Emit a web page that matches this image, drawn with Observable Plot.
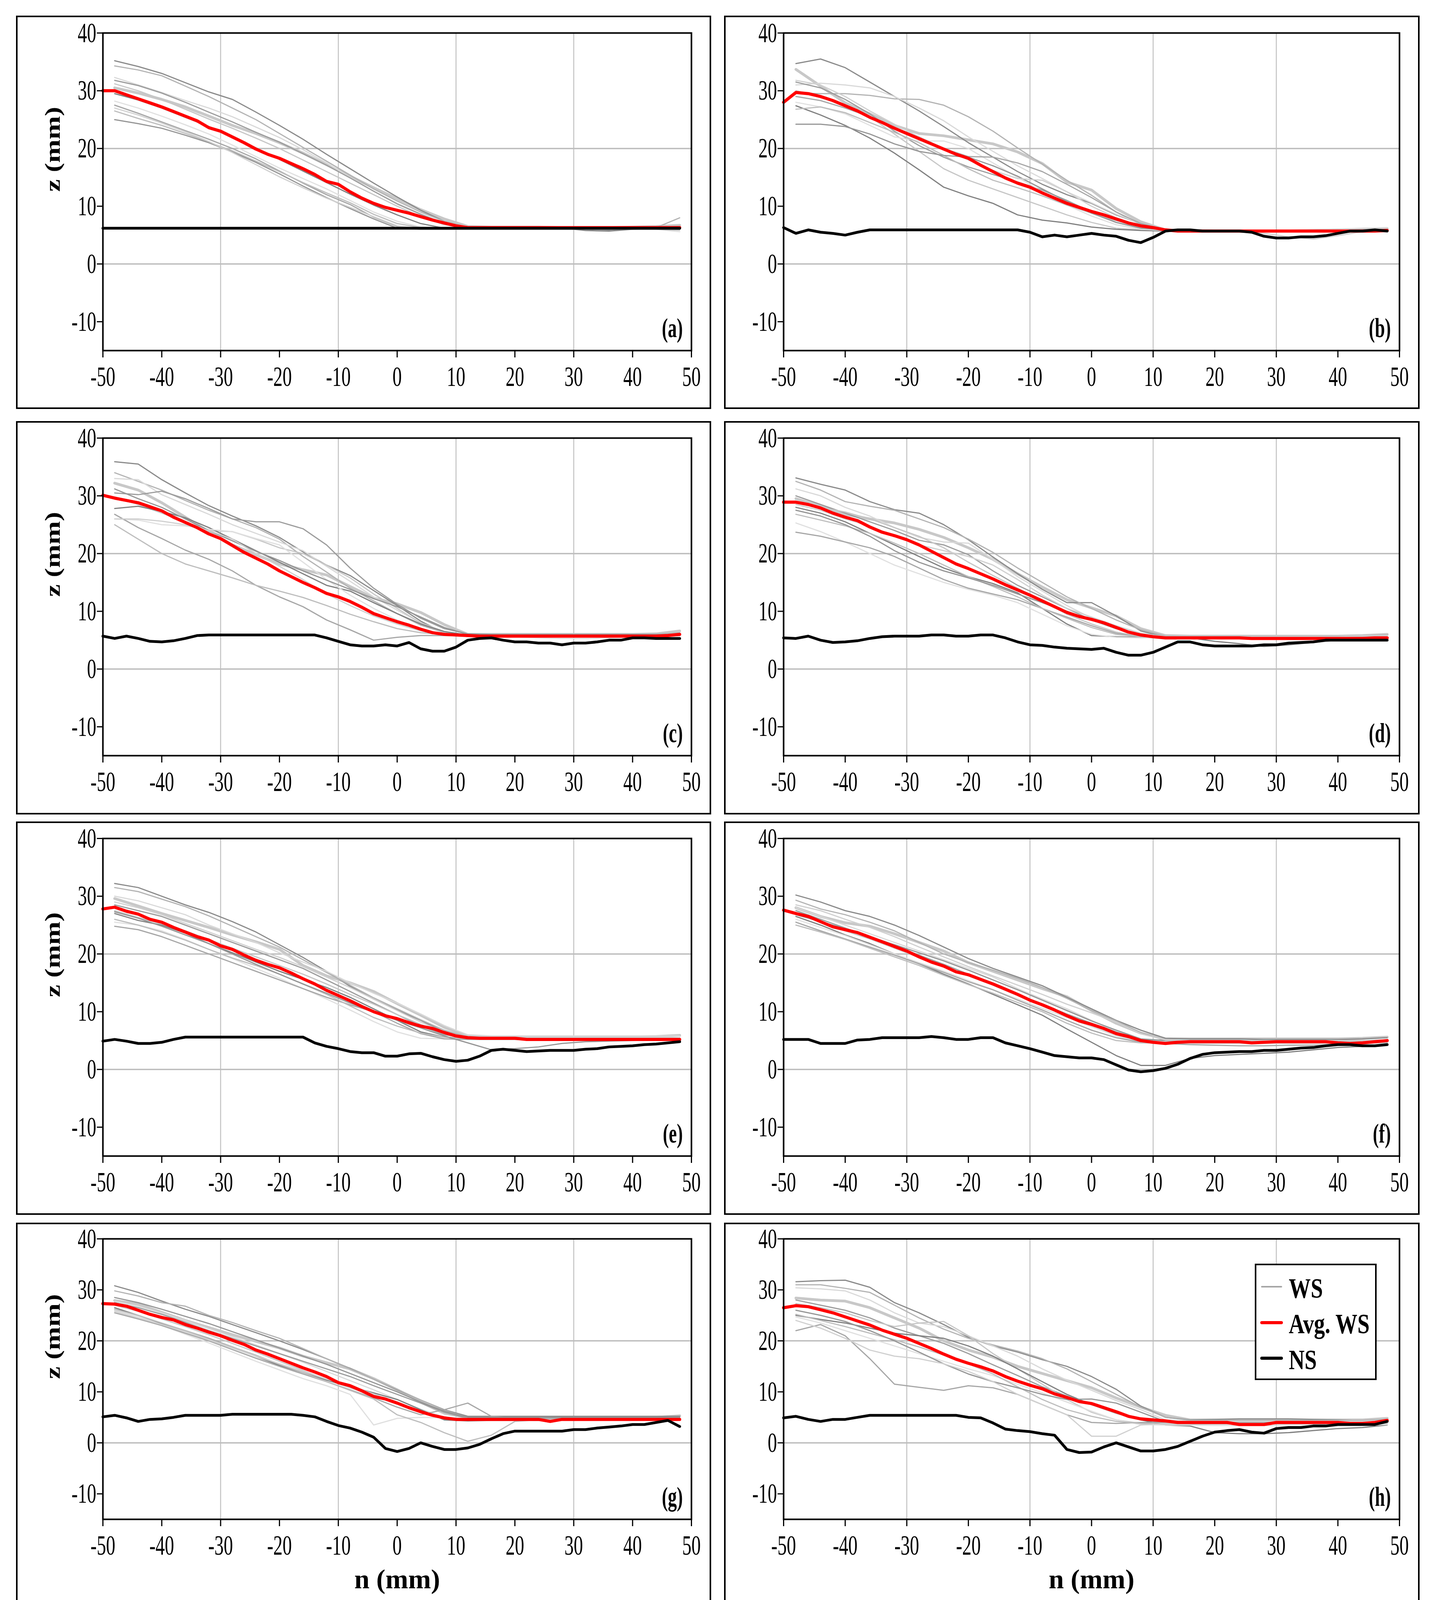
<!DOCTYPE html>
<html>
<head>
<meta charset="utf-8">
<script src="https://cdn.jsdelivr.net/npm/d3@7"></script>
<script src="https://cdn.jsdelivr.net/npm/@observablehq/plot@0.6"></script>
<style>
html, body { margin: 0; padding: 0; background: #fff; }
#page { position: relative; width: 3677px; height: 4184px; background: #fff; overflow: hidden; }
#page svg.plotsvg { position: absolute; }
.box { position: absolute; box-sizing: border-box; border: 4px solid #000; pointer-events: none; }
</style>
</head>
<body>
<div id="page"></div>
<script>
// ---------------- data ----------------
const XN = [-50,-48,-46,-44,-42,-40,-38,-36,-34,-32,-30,-28,-26,-24,-22,-20,-18,-16,-14,-12,
            -10,-8,-6,-4,-2,0,2,4,6,8,10,12,14,16,18,20,22,24,26,28,30,32,34,36,38,40,42,44,46,48];
const XG = [-48,-44,-40,-36,-32,-28,-24,-20,-16,-12,-8,-4,0,4,8,12,16,20,24,28,32,36,40,44,48];
const X_TICKS = [-50,-40,-30,-20,-10,0,10,20,30,40,50];
const Y_TICKS = [-10,0,10,20,30,40];
const GRID_X = [-50,-30,-10,10,30,50];
const GRID_Y = [0,20];
const LETTERS = ["(a)","(b)","(c)","(d)","(e)","(f)","(g)","(h)"];
const LEGEND_LABELS = ["WS","Avg. WS","NS"];
const X_TITLE = "n (mm)";
const Y_TITLE = "z (mm)";

// Avg. WS (red) and NS (black) at XN
const RED_A = [30.0,30.0,29.3,28.6,27.9,27.2,26.4,25.6,24.8,23.6,
               23.0,22.0,21.0,19.9,19.0,18.3,17.4,16.5,15.5,14.3,
               13.8,12.5,11.4,10.5,9.8,9.3,8.8,8.2,7.6,7.1,
               6.6,6.3,6.3,6.3,6.3,6.3,6.3,6.3,6.3,6.3,
               6.3,6.3,6.3,6.3,6.3,6.3,6.3,6.3,6.3,6.3];
const NS_A  = [6.2,6.2,6.2,6.2,6.2,6.2,6.2,6.2,6.2,6.2,
               6.2,6.2,6.2,6.2,6.2,6.2,6.2,6.2,6.2,6.2,
               6.2,6.2,6.2,6.2,6.2,6.2,6.2,6.2,6.2,6.2,
               6.2,6.2,6.2,6.2,6.2,6.2,6.2,6.2,6.2,6.2,
               6.2,6.2,6.2,6.2,6.2,6.2,6.2,6.2,6.2,6.2];
const RED_B = [28.0,29.7,29.5,29.0,28.3,27.4,26.5,25.4,24.5,23.5,
               22.6,21.7,20.8,19.9,19.0,18.3,17.1,16.0,14.9,14.0,
               13.3,12.3,11.4,10.5,9.8,9.1,8.5,7.8,7.1,6.6,
               6.3,5.9,5.7,5.7,5.7,5.7,5.7,5.7,5.7,5.7,
               5.7,5.7,5.7,5.7,5.7,5.7,5.7,5.7,5.7,5.8];
const NS_B  = [6.3,5.3,5.9,5.5,5.3,5.0,5.5,5.9,5.9,5.9,
               5.9,5.9,5.9,5.9,5.9,5.9,5.9,5.9,5.9,5.9,
               5.5,4.7,5.0,4.7,5.0,5.3,5.0,4.8,4.1,3.7,
               4.6,5.7,5.9,5.9,5.7,5.7,5.7,5.7,5.5,4.8,
               4.5,4.5,4.7,4.7,4.9,5.3,5.7,5.7,5.9,5.7];
const RED_C = [30.1,29.6,29.2,28.8,28.1,27.4,26.3,25.4,24.5,23.4,
               22.6,21.4,20.2,19.2,18.2,17.0,16.0,15.0,14.1,13.1,
               12.5,11.7,10.7,9.6,8.9,8.2,7.6,6.9,6.3,6.0,
               5.9,5.8,5.7,5.7,5.7,5.7,5.7,5.7,5.7,5.7,
               5.7,5.7,5.7,5.7,5.7,5.7,5.7,5.7,5.8,6.0];
const NS_C  = [5.7,5.3,5.7,5.3,4.8,4.7,4.9,5.3,5.8,5.9,
               5.9,5.9,5.9,5.9,5.9,5.9,5.9,5.9,5.9,5.4,
               4.8,4.2,4.0,4.0,4.2,4.0,4.6,3.5,3.1,3.1,
               3.8,5.0,5.3,5.4,5.0,4.7,4.7,4.5,4.5,4.2,
               4.5,4.5,4.7,5.0,5.0,5.4,5.4,5.3,5.3,5.3];
const RED_D = [28.9,28.9,28.5,27.9,27.0,26.3,25.7,24.6,23.7,23.1,
               22.4,21.5,20.4,19.3,18.2,17.4,16.5,15.6,14.6,13.7,
               12.8,11.8,10.8,9.8,9.1,8.6,8.0,7.2,6.4,5.9,
               5.6,5.4,5.4,5.4,5.4,5.4,5.4,5.4,5.3,5.3,
               5.3,5.3,5.3,5.3,5.3,5.3,5.3,5.3,5.4,5.4];
const NS_D  = [5.4,5.3,5.7,5.0,4.6,4.7,4.9,5.3,5.6,5.7,
               5.7,5.7,5.9,5.9,5.7,5.7,5.9,5.9,5.4,4.7,
               4.2,4.1,3.8,3.6,3.5,3.4,3.6,2.9,2.4,2.4,
               2.9,3.8,4.7,4.7,4.2,4.0,4.0,4.0,4.0,4.2,
               4.2,4.5,4.6,4.7,5.0,5.0,5.0,5.0,5.0,5.0];
const RED_E = [27.8,28.1,27.4,26.9,26.0,25.5,24.6,23.8,23.0,22.4,
               21.4,20.8,19.8,18.9,18.2,17.6,16.7,15.7,14.8,13.7,
               12.8,11.9,10.9,10.0,9.3,8.8,8.1,7.5,7.1,6.4,
               5.8,5.5,5.4,5.4,5.4,5.4,5.2,5.2,5.2,5.2,
               5.2,5.2,5.2,5.2,5.2,5.2,5.2,5.2,5.2,5.2];
const NS_E  = [4.9,5.2,4.9,4.5,4.5,4.7,5.2,5.6,5.6,5.6,
               5.6,5.6,5.6,5.6,5.6,5.6,5.6,5.6,4.6,4.0,
               3.6,3.1,2.9,2.9,2.3,2.3,2.7,2.8,2.2,1.7,
               1.4,1.6,2.3,3.3,3.5,3.3,3.1,3.2,3.3,3.3,
               3.3,3.5,3.6,3.9,4.0,4.1,4.3,4.4,4.6,4.8];
const RED_F = [27.6,27.0,26.5,25.6,24.7,24.2,23.7,22.9,22.1,21.3,
               20.5,19.5,18.6,17.9,16.9,16.4,15.6,14.8,13.9,13.0,
               12.0,11.2,10.3,9.3,8.4,7.8,7.1,6.2,5.7,5.0,
               4.7,4.5,4.7,4.8,4.8,4.8,4.8,4.8,4.6,4.7,
               4.8,4.8,4.8,4.8,4.8,4.6,4.5,4.6,4.8,5.0];
const NS_F  = [5.2,5.2,5.2,4.5,4.5,4.5,5.1,5.2,5.5,5.5,
               5.5,5.5,5.7,5.5,5.2,5.2,5.5,5.5,4.6,4.1,
               3.6,3.0,2.4,2.2,2.0,2.0,1.7,0.8,-0.1,-0.4,
               -0.2,0.2,0.9,1.9,2.6,2.9,3.0,3.1,3.1,3.3,
               3.3,3.5,3.7,3.8,4.1,4.3,4.3,4.1,4.1,4.3];
const RED_G = [27.3,27.2,26.8,26.0,25.2,24.6,24.1,23.2,22.5,21.7,
               21.0,20.1,19.3,18.2,17.4,16.5,15.6,14.7,13.9,13.0,
               11.8,11.2,10.2,9.1,8.6,7.8,6.9,6.1,5.4,4.9,
               4.6,4.6,4.6,4.6,4.6,4.6,4.6,4.6,4.2,4.6,
               4.6,4.6,4.6,4.6,4.6,4.6,4.6,4.6,4.6,4.6];
const NS_G  = [5.1,5.4,4.9,4.2,4.6,4.7,5.0,5.4,5.4,5.4,
               5.4,5.6,5.6,5.6,5.6,5.6,5.6,5.4,5.1,4.2,
               3.4,2.9,2.1,1.1,-1.1,-1.7,-1.1,0.0,-0.7,-1.3,
               -1.3,-1.0,-0.3,0.8,1.8,2.3,2.3,2.3,2.3,2.3,
               2.6,2.6,2.9,3.1,3.3,3.6,3.6,4.0,4.4,3.2];
const RED_H = [26.5,26.9,26.7,26.1,25.5,24.7,23.9,23.1,22.1,21.3,
               20.5,19.5,18.5,17.4,16.4,15.6,14.9,14.1,13.0,12.1,
               11.3,10.6,9.6,8.9,8.1,7.7,6.9,6.1,5.2,4.7,
               4.5,4.3,4.0,4.0,4.0,4.0,4.0,3.6,3.6,3.6,
               4.0,4.0,4.0,4.0,4.0,4.0,3.8,3.8,4.0,4.4];
const NS_H  = [4.9,5.2,4.6,4.2,4.6,4.6,5.0,5.4,5.4,5.4,
               5.4,5.4,5.4,5.4,5.4,5.0,4.9,3.9,2.7,2.4,
               2.2,1.8,1.5,-1.3,-1.9,-1.8,-0.8,0.0,-0.8,-1.6,
               -1.6,-1.3,-0.7,0.3,1.3,2.1,2.4,2.6,2.1,1.9,
               2.8,3.0,3.0,3.3,3.3,3.6,3.6,3.6,3.6,4.2];

// individual WS profiles at XG (first of each panel is the heavy light-grey one)
const GRAY_A = [
 [30.5,29.6,28.5,27.2,25.6,24.0,22.6,21.0,19.2,17.2,15.2,13.2,11.3,9.4,7.8,6.5,6.4,6.4,6.4,6.3,6.3,6.3,6.4,6.5,6.7],
 [35.2,34.2,33.0,31.4,29.8,28.5,26.3,24.0,21.6,19.0,16.5,14.0,11.6,9.3,7.4,6.3,6.2,6.2,6.2,6.2,6.0,5.9,6.1,6.2,6.3],
 [34.3,33.6,32.6,30.8,29.0,27.0,25.0,22.6,20.2,17.8,15.4,13.0,10.9,9.0,7.4,6.4,6.3,6.2,6.3,6.2,6.1,6.2,6.2,6.3,8.0],
 [32.3,31.0,29.7,28.3,27.0,25.5,23.7,21.9,19.8,17.5,15.0,12.6,10.5,8.7,7.1,6.3,6.3,6.3,6.3,6.3,6.3,6.3,6.3,6.3,6.3],
 [31.8,30.9,29.6,28.0,26.3,24.6,22.8,21.1,19.1,17.1,14.9,12.6,10.4,8.6,7.0,6.4,6.4,6.4,6.4,6.4,6.4,6.4,6.4,6.4,6.5],
 [31.2,30.0,28.5,26.8,25.1,23.5,21.8,20.0,18.0,16.0,14.0,12.0,10.0,8.2,6.8,6.3,6.3,6.2,6.2,6.2,6.2,6.2,6.2,6.2,6.2],
 [29.5,28.4,27.0,25.4,23.8,22.0,20.1,18.1,16.1,14.1,12.1,10.2,8.5,7.0,6.2,6.2,6.2,6.2,6.2,6.2,5.8,5.7,6.0,6.1,6.1],
 [28.2,27.0,25.6,24.1,22.5,20.6,18.6,16.6,14.8,13.0,11.0,9.0,7.4,6.4,6.2,6.2,6.2,6.2,6.2,6.2,6.2,6.2,6.2,6.0,5.6],
 [27.5,26.1,24.6,23.1,21.6,20.0,18.2,16.1,14.0,12.0,10.3,8.1,6.5,6.1,6.1,6.1,6.1,6.1,6.1,6.1,6.1,6.1,6.1,6.1,6.0],
 [26.5,25.2,24.0,22.6,21.1,19.6,17.8,16.0,14.1,12.3,10.6,8.6,7.0,6.3,6.2,6.2,6.2,6.2,6.2,6.2,6.2,6.2,6.2,6.2,6.2],
 [25.0,24.3,23.5,22.3,21.0,19.4,17.6,15.6,13.5,11.5,9.6,7.8,6.2,6.0,6.0,6.0,6.0,6.0,6.0,6.0,6.0,6.0,6.0,6.0,5.9],
 [27.0,25.8,24.4,22.9,21.2,19.3,17.2,15.1,13.2,11.4,9.8,8.2,6.6,6.1,6.1,6.1,6.1,6.1,6.1,6.1,6.1,6.1,6.1,6.1,6.1]
];
const GRAY_B = [
 [33.7,30.8,27.9,26.0,24.0,22.6,22.2,21.5,20.8,19.4,17.4,14.2,12.8,9.6,7.3,5.9,5.8,5.7,5.7,5.7,5.7,5.8,5.9,6.0,6.1],
 [34.7,35.5,34.0,31.5,29.0,26.5,23.8,21.0,18.5,16.0,13.8,12.0,10.5,8.5,7.0,6.0,5.8,5.7,5.7,5.7,5.6,5.6,5.7,5.8,5.9],
 [29.6,29.5,29.5,29.2,28.6,28.5,27.5,25.5,23.0,20.1,17.3,14.5,11.9,9.0,6.8,5.9,5.8,5.7,5.7,5.7,5.7,5.7,5.7,5.7,5.7],
 [31.0,31.3,31.0,30.5,29.0,27.0,24.8,22.0,19.5,17.0,14.8,12.5,10.6,8.6,7.0,6.1,5.8,5.8,5.8,5.8,5.8,5.9,6.0,6.2,6.3],
 [31.5,30.5,28.5,26.0,23.0,20.5,18.5,16.8,15.5,14.2,12.8,11.0,9.0,7.2,6.2,5.8,5.7,5.7,5.7,5.7,5.7,5.7,5.7,5.7,5.7],
 [30.0,29.0,27.5,25.5,22.5,19.5,16.5,14.5,13.0,11.5,10.0,8.5,7.2,6.2,5.9,5.8,5.7,5.7,5.6,5.6,5.6,5.6,5.6,5.7,5.8],
 [27.4,25.8,24.0,21.8,19.2,16.3,13.3,11.8,10.5,8.5,7.6,7.1,6.4,6.0,5.8,5.7,5.7,5.7,5.7,5.7,5.7,5.7,5.7,5.7,5.7],
 [28.0,27.2,26.0,24.0,22.0,21.3,21.3,20.0,17.5,15.0,12.5,10.2,8.3,6.8,6.0,5.8,5.7,5.7,5.7,5.7,5.7,5.7,5.7,5.7,5.7],
 [29.0,28.3,27.0,25.5,23.6,22.0,20.0,18.6,18.5,17.5,16.0,13.8,11.5,9.0,7.0,6.0,5.8,5.8,5.8,5.8,5.8,5.8,5.8,5.9,6.0],
 [26.8,27.2,26.2,24.5,22.8,21.0,18.8,16.5,14.5,13.2,11.8,10.2,8.8,7.5,6.3,5.8,5.7,5.7,5.7,5.6,5.6,5.6,5.6,5.6,5.6],
 [24.2,24.2,23.8,22.5,20.8,19.5,18.8,18.5,17.0,15.2,13.0,10.8,8.8,7.2,6.2,5.9,5.8,5.8,5.8,5.8,5.8,5.8,5.8,5.8,5.8],
 [31.8,31.0,29.0,26.5,24.2,22.0,20.0,18.0,16.2,14.8,14.5,12.5,10.0,8.0,6.5,5.8,5.8,5.7,5.6,5.3,4.7,4.3,4.9,5.6,5.8]
];
const GRAY_C = [
 [32.2,31.0,28.8,26.3,23.8,21.5,19.8,18.2,17.2,16.3,14.3,12.3,11.3,9.8,7.7,6.0,6.0,6.0,6.0,6.0,6.0,6.0,6.0,6.1,6.6],
 [35.9,35.5,32.8,30.5,28.3,26.5,24.8,22.8,20.3,18.0,16.2,13.6,11.0,8.3,6.2,5.9,5.8,5.8,5.8,5.8,5.8,5.8,5.8,5.8,5.8],
 [34.0,32.5,31.0,29.2,27.5,26.0,24.5,22.5,19.5,16.8,14.0,11.8,9.6,7.6,6.3,5.9,5.9,5.9,5.9,5.9,5.9,5.9,5.9,6.0,6.3],
 [33.0,32.8,30.2,28.5,26.8,25.0,23.5,22.0,20.5,17.8,15.2,12.5,10.2,8.0,6.5,5.9,5.8,5.8,5.8,5.8,5.8,5.8,5.8,5.8,5.8],
 [30.5,30.2,30.8,29.5,27.8,26.0,25.5,25.5,24.3,21.5,17.5,14.0,11.2,8.8,7.0,6.1,6.0,6.0,6.0,6.0,6.0,6.0,6.0,6.0,6.0],
 [29.8,28.5,27.0,25.5,24.0,23.8,22.5,21.0,20.0,18.0,15.8,13.0,10.5,8.0,6.3,5.8,5.8,5.7,5.7,5.7,5.7,5.7,5.7,5.7,5.7],
 [27.8,28.2,27.3,26.2,24.5,22.5,20.5,18.5,16.5,14.5,13.5,11.5,9.6,7.8,6.5,5.9,5.9,5.9,5.9,5.9,5.9,5.9,5.9,5.9,5.9],
 [26.0,25.8,25.0,24.8,24.2,23.8,22.6,21.5,18.5,15.5,12.8,10.5,8.5,6.8,5.9,5.8,5.7,5.6,5.4,5.3,5.3,5.4,5.6,5.7,5.7],
 [26.8,24.5,22.6,20.6,19.0,17.0,14.5,12.5,10.8,8.5,6.8,5.0,5.5,5.8,5.8,5.8,5.8,5.8,5.8,5.8,5.8,5.8,5.8,5.8,5.8],
 [25.0,22.5,20.0,18.2,17.0,15.8,14.5,13.5,12.4,11.0,9.5,8.2,7.0,6.3,6.0,5.8,5.8,5.8,5.8,5.8,5.8,5.8,5.8,5.8,5.8],
 [31.2,29.5,28.0,26.0,24.0,22.2,20.4,18.8,17.0,15.4,13.8,12.2,10.8,9.0,7.2,6.0,5.9,5.9,5.9,5.9,5.9,5.9,5.9,5.9,5.9],
 [26.0,26.0,25.6,25.0,24.0,22.5,20.0,17.8,15.5,13.0,11.0,9.2,7.8,6.6,5.9,5.8,5.8,5.8,5.8,5.8,5.8,5.8,5.8,5.8,5.8]
];
const GRAY_D = [
 [29.5,28.2,26.8,26.0,25.3,24.2,22.8,21.0,19.0,16.5,14.2,12.0,10.6,9.2,7.0,5.8,5.7,5.7,5.7,5.7,5.7,5.7,5.7,5.8,6.0],
 [33.1,32.0,31.0,29.0,27.6,27.0,25.0,22.4,19.4,16.5,13.8,11.5,11.5,9.2,6.6,5.5,5.5,5.5,5.5,5.5,5.5,5.5,5.5,5.5,5.5],
 [32.5,31.0,29.0,28.2,27.5,26.0,24.5,22.5,20.2,17.5,15.0,12.5,10.5,8.5,6.8,5.7,5.6,5.6,5.6,5.6,5.6,5.6,5.6,5.7,5.9],
 [31.2,30.0,28.0,26.5,24.5,22.8,22.0,21.8,19.0,16.0,13.5,11.0,8.8,7.0,5.8,5.5,5.5,5.5,5.5,5.5,5.5,5.5,5.5,5.5,5.5],
 [30.0,28.5,27.0,25.5,24.0,22.3,21.5,19.8,17.0,14.5,12.5,10.5,8.5,7.0,6.0,5.6,5.6,5.6,5.6,5.6,5.6,5.6,5.6,5.6,5.6],
 [29.0,28.0,27.2,26.0,24.5,23.0,21.0,18.5,16.2,14.0,11.8,9.5,7.8,6.4,5.6,5.5,5.5,5.5,5.5,5.5,5.5,5.5,5.5,5.5,5.5],
 [28.0,27.0,25.5,23.5,21.5,19.5,17.5,16.0,14.8,13.2,10.5,7.8,5.8,5.6,5.5,5.5,5.4,4.8,4.4,3.9,4.2,4.6,5.0,5.0,5.0],
 [25.3,23.8,22.0,20.0,18.0,16.5,15.0,13.8,12.8,11.5,9.5,7.5,6.0,5.5,5.4,5.4,5.4,5.4,5.4,5.4,5.4,5.4,5.4,5.4,5.4],
 [23.7,23.0,22.0,21.0,19.5,17.5,15.5,14.0,13.0,12.0,10.5,9.0,7.5,6.2,5.6,5.5,5.5,5.5,5.5,5.5,5.5,5.5,5.5,5.5,5.5],
 [26.8,25.8,24.8,23.5,21.8,20.0,18.0,16.0,14.3,12.5,10.5,8.8,7.2,6.0,5.6,5.5,5.5,5.5,5.5,5.5,5.5,5.5,5.5,5.5,5.5],
 [27.5,26.5,25.0,23.0,20.5,18.5,17.0,15.8,14.5,13.0,11.5,10.0,8.5,7.0,6.0,5.5,5.5,5.5,5.5,5.5,5.5,5.5,5.5,5.5,5.5],
 [28.5,27.5,26.0,24.8,23.0,21.5,20.5,19.5,18.0,15.5,12.8,10.5,9.0,7.5,6.2,5.6,5.6,5.6,5.6,5.6,5.6,5.6,5.6,5.7,5.8]
];
const GRAY_E = [
 [29.6,28.3,27.0,25.8,24.6,23.3,22.1,20.8,18.0,16.2,15.0,13.5,11.4,9.4,7.3,5.8,5.6,5.6,5.6,5.6,5.6,5.6,5.6,5.7,5.9],
 [32.2,31.5,30.0,28.5,27.2,25.6,23.8,21.6,19.4,17.0,14.4,12.2,10.3,8.5,6.5,5.6,5.5,5.5,5.5,5.5,5.5,5.5,5.5,5.5,5.5],
 [31.5,30.8,29.5,28.2,26.6,24.8,23.0,21.2,19.0,16.8,14.6,12.4,10.5,8.6,6.8,5.6,5.5,5.5,5.5,5.5,5.5,5.5,5.5,5.5,5.5],
 [30.0,29.2,28.0,26.8,25.0,23.5,22.0,20.2,18.6,17.0,15.0,13.2,11.5,9.6,7.6,6.0,5.8,5.8,5.8,5.8,5.8,5.8,5.8,5.8,5.8],
 [28.5,27.5,26.5,25.0,23.5,22.0,20.5,19.0,17.5,15.5,13.5,11.5,9.5,7.5,6.0,5.5,5.4,5.4,5.4,5.4,5.4,5.4,5.4,5.4,5.4],
 [27.5,26.3,25.2,24.0,22.5,21.0,19.5,18.0,16.5,14.8,13.0,11.3,9.5,7.8,6.2,5.5,5.4,5.4,5.4,5.4,5.4,5.4,5.4,5.4,5.5],
 [27.0,25.8,25.0,23.6,21.8,20.2,18.6,17.0,15.6,14.2,12.5,10.5,8.5,6.5,5.6,5.4,5.4,5.4,5.4,5.4,5.4,5.4,5.4,5.4,5.4],
 [25.5,25.0,24.0,22.5,20.8,19.2,17.5,15.8,14.0,12.2,10.3,8.3,6.5,5.4,5.3,5.3,5.3,5.3,5.3,5.3,5.3,5.3,5.3,5.3,5.3],
 [24.8,24.2,23.0,21.5,20.0,18.5,17.0,15.5,14.0,12.5,11.2,10.0,8.0,6.2,5.3,5.2,5.2,5.2,5.2,5.2,5.2,5.2,5.2,5.2,5.2],
 [26.0,25.0,23.8,22.4,20.8,19.3,18.0,16.5,14.8,13.0,11.0,9.0,7.5,6.3,5.6,5.4,5.4,5.4,5.4,5.4,5.4,5.4,5.4,5.4,5.4],
 [27.3,26.2,24.8,23.3,21.8,20.0,18.2,16.5,14.8,13.2,11.5,10.0,8.5,7.2,5.8,4.6,3.4,3.6,3.9,4.5,4.8,4.9,5.0,5.1,5.2],
 [29.0,28.0,26.8,25.3,23.8,22.3,20.8,19.4,17.8,16.0,14.2,12.2,10.2,8.2,6.5,5.5,5.5,5.5,5.5,5.5,5.5,5.5,5.5,5.5,5.5]
];
const GRAY_F = [
 [28.0,26.5,25.4,24.8,23.5,22.0,20.5,18.5,17.0,15.5,14.0,12.6,10.2,8.0,6.3,5.3,5.3,5.3,5.3,5.3,5.3,5.3,5.3,5.4,5.6],
 [30.2,29.0,27.5,26.5,25.0,23.2,21.2,19.2,17.5,16.0,14.5,12.5,10.5,8.5,6.8,5.4,5.3,5.3,5.3,5.2,5.2,5.2,5.2,5.3,5.5],
 [29.3,27.8,26.8,25.5,24.0,22.0,20.0,18.5,17.2,15.8,14.2,12.3,10.2,8.4,6.4,5.0,4.9,4.9,4.9,4.9,4.9,4.9,4.9,4.9,4.9],
 [28.0,26.5,25.0,23.5,22.0,20.5,19.0,17.5,16.0,14.0,12.2,10.5,8.5,6.5,5.0,4.8,4.8,4.8,4.8,4.8,4.8,4.8,4.8,4.8,4.8],
 [27.5,26.0,24.5,23.0,21.4,19.8,18.2,16.5,14.8,13.0,11.3,9.6,8.0,6.5,5.2,5.0,5.0,5.0,5.0,5.0,5.0,5.0,5.0,5.0,5.0],
 [27.0,25.5,24.0,22.6,21.0,19.4,17.8,16.2,14.6,12.8,11.0,9.2,7.5,6.0,4.8,4.7,4.6,4.6,4.6,4.6,4.6,4.6,4.6,4.6,4.6],
 [26.5,25.0,23.3,21.8,20.0,18.3,16.5,14.8,13.0,11.2,9.4,7.0,4.7,2.4,0.7,0.7,1.9,2.4,2.6,2.8,3.0,3.4,3.8,4.0,4.4],
 [26.0,24.6,23.2,21.6,20.0,18.5,17.0,15.4,13.8,12.2,10.6,9.0,7.4,5.8,4.6,4.5,4.5,4.5,4.5,4.5,4.5,4.5,4.5,4.6,4.8],
 [25.5,24.0,22.6,21.2,19.8,18.3,16.8,15.2,13.8,12.0,10.3,8.5,6.8,5.5,4.7,4.5,4.3,4.2,4.1,4.1,4.2,4.2,4.3,4.5,4.7],
 [25.0,23.8,22.5,21.0,19.5,18.0,16.3,14.7,13.2,11.6,10.0,8.0,6.3,5.0,4.6,4.6,4.6,4.6,4.6,4.6,4.6,4.6,4.6,4.6,4.6],
 [26.8,25.6,24.4,23.0,21.6,20.2,18.8,17.2,15.5,13.8,12.0,10.2,8.4,6.8,5.3,5.0,5.0,5.0,5.0,5.0,5.0,5.0,5.0,5.0,5.1],
 [28.5,27.5,26.0,24.6,23.0,21.2,19.5,17.8,16.2,14.6,13.0,11.3,9.8,8.2,6.2,5.1,5.0,5.0,5.0,5.0,5.0,5.0,5.0,5.0,5.0]
];
const GRAY_G = [
 [27.9,27.2,25.6,24.0,22.6,21.2,19.9,18.6,17.0,15.7,14.5,12.6,10.4,8.0,5.8,5.0,5.0,5.0,5.0,5.0,5.0,5.0,5.0,5.0,5.3],
 [30.8,29.5,27.8,26.2,24.8,23.2,21.6,20.0,18.3,16.5,14.6,12.5,10.4,8.4,6.5,5.2,5.2,5.2,5.2,5.2,5.2,5.2,5.2,5.2,5.2],
 [29.8,28.8,27.5,26.8,25.0,23.6,22.0,20.5,18.5,16.5,14.5,12.5,10.5,8.4,6.4,5.0,5.0,5.0,5.0,5.0,5.0,5.0,5.0,5.0,5.0],
 [27.8,26.8,25.5,24.0,22.4,20.8,19.2,17.5,15.8,14.0,12.2,10.4,8.5,6.6,5.0,4.8,4.8,4.8,4.8,4.8,4.8,4.8,4.8,4.8,4.8],
 [27.5,26.5,25.2,23.6,22.0,20.5,19.0,17.5,16.0,14.5,13.0,11.2,9.5,7.8,6.0,4.8,4.8,4.8,4.8,4.8,4.8,4.8,4.8,4.8,4.8],
 [27.0,25.8,24.3,22.8,21.2,19.5,17.8,16.0,14.2,12.4,10.8,9.3,7.8,6.2,5.0,4.6,4.6,4.6,4.6,4.6,4.6,4.6,4.6,4.6,4.6],
 [26.5,25.0,23.4,22.0,20.5,18.8,17.0,15.2,13.8,12.3,11.0,9.8,8.5,6.5,4.5,4.3,4.4,4.4,4.4,4.5,4.5,4.5,4.5,4.5,4.5],
 [26.0,24.8,23.0,21.3,19.6,17.8,16.0,14.3,12.6,11.2,9.5,3.5,4.8,5.0,4.9,4.8,4.8,4.8,4.8,4.8,4.8,4.8,4.8,4.8,4.8],
 [25.5,24.3,23.0,21.5,20.0,18.3,16.6,15.0,13.5,12.0,10.4,8.8,7.0,5.5,6.5,7.8,5.2,4.8,4.8,4.8,4.8,4.8,4.8,4.8,4.8],
 [26.2,25.0,23.5,22.0,20.4,18.8,17.2,15.4,13.8,12.0,10.3,8.6,5.5,4.0,2.0,0.3,1.5,4.2,4.5,4.5,4.5,4.5,4.6,4.6,4.6],
 [28.5,27.5,26.2,24.8,23.4,21.8,20.2,18.6,17.0,15.4,13.6,11.8,10.0,8.0,6.2,5.0,5.0,5.0,5.0,5.0,5.0,5.0,5.0,5.0,5.0],
 [25.8,24.5,23.2,21.8,20.2,18.6,17.0,15.5,14.0,12.5,11.2,9.6,7.8,6.0,4.7,4.5,4.5,4.5,4.5,4.5,4.5,4.5,4.5,4.5,4.5]
];
const GRAY_H = [
 [28.4,28.0,27.8,26.5,24.5,22.5,20.0,18.2,16.8,15.0,13.6,12.2,10.8,8.8,7.0,5.4,4.5,4.5,4.5,4.5,4.5,4.5,4.5,4.5,4.8],
 [31.6,31.8,31.9,30.5,27.5,25.5,23.2,20.7,19.0,17.8,16.3,15.0,13.0,10.5,7.2,5.0,4.5,4.6,4.7,4.7,4.7,4.6,4.5,4.3,4.6],
 [31.0,31.0,30.3,29.5,27.0,24.5,22.3,20.5,19.2,18.0,16.5,14.5,12.0,9.5,7.0,5.0,4.4,4.4,4.4,4.4,4.4,4.4,4.4,4.4,4.6],
 [30.4,30.2,29.8,28.0,25.5,23.5,22.8,21.0,19.0,17.0,14.5,12.3,10.3,8.3,6.5,4.5,4.2,4.2,4.2,4.2,4.2,4.2,4.2,4.2,4.4],
 [28.0,27.0,26.0,24.5,22.5,21.0,19.5,17.5,15.3,13.2,11.0,9.2,7.5,5.8,4.5,4.0,4.0,4.0,4.0,4.0,4.0,4.0,4.0,4.0,4.2],
 [27.3,26.5,25.5,24.0,22.8,23.5,23.8,21.0,17.5,14.5,11.5,8.5,6.0,4.5,3.8,3.8,3.8,3.8,3.8,3.8,3.8,3.8,3.8,3.8,4.0],
 [25.0,24.2,23.5,22.5,21.5,21.0,20.5,19.0,17.0,14.5,12.0,9.5,7.5,6.0,4.5,3.5,3.3,2.0,1.8,1.8,2.0,2.4,2.8,3.0,3.5],
 [24.7,23.5,22.0,20.5,19.0,17.5,16.0,14.5,13.2,11.5,9.8,8.0,6.2,4.5,3.6,3.5,3.5,3.4,3.4,3.4,3.3,3.3,3.3,3.4,3.6],
 [22.0,23.2,21.0,16.5,11.5,10.9,10.3,11.2,10.8,9.5,7.5,5.5,4.0,3.8,4.0,4.0,4.0,4.0,4.0,4.0,4.0,4.0,4.0,4.0,4.0],
 [25.2,24.0,22.8,21.5,20.2,18.8,17.2,15.5,13.5,11.0,8.5,6.5,5.2,4.2,3.8,3.7,3.7,3.7,3.7,3.7,3.7,3.7,3.7,3.7,3.9],
 [26.0,25.0,23.8,22.0,20.0,17.8,15.5,13.5,12.0,10.8,9.5,8.5,8.6,7.8,6.0,4.2,3.8,3.8,3.8,3.8,3.8,3.8,3.8,3.8,3.8],
 [24.0,22.5,20.5,18.2,17.0,16.5,15.5,14.0,12.0,9.5,7.5,5.5,1.3,1.3,3.5,3.8,3.8,3.8,3.8,3.8,3.8,3.8,3.8,3.8,3.8]
];

const PANELS = [
  {letter: LETTERS[0], gray: GRAY_A, red: RED_A, ns: NS_A},
  {letter: LETTERS[1], gray: GRAY_B, red: RED_B, ns: NS_B},
  {letter: LETTERS[2], gray: GRAY_C, red: RED_C, ns: NS_C},
  {letter: LETTERS[3], gray: GRAY_D, red: RED_D, ns: NS_D},
  {letter: LETTERS[4], gray: GRAY_E, red: RED_E, ns: NS_E},
  {letter: LETTERS[5], gray: GRAY_F, red: RED_F, ns: NS_F},
  {letter: LETTERS[6], gray: GRAY_G, red: RED_G, ns: NS_G},
  {letter: LETTERS[7], gray: GRAY_H, red: RED_H, ns: NS_H}
];

// ---------------- layout & style ----------------
const COLS = [
  {x: 41,   w: 1780, ml: 222, mr: 51},
  {x: 1854, w: 1781, ml: 152, mr: 52}
];
const ROWS = [
  {y: 40,   h: 1007, mt: 44, mb: 150},
  {y: 1078, h: 1007, mt: 43, mb: 151},
  {y: 2103, h: 1007, mt: 43, mb: 151},
  {y: 3130, h: 1010, mt: 41, mb: 251}
];
const SHADES = ["#8a8a8a","#b3b3b3","#d9d9d9","#9c9c9c","#c6c6c6","#7f7f7f","#e0e0e0","#a6a6a6","#bdbdbd","#959595","#d0d0d0"];
const FONT = "'Liberation Serif', 'Times New Roman', serif";
const NARROW = 0.66;

// horizontally condense tick labels / panel letters (the reference uses a narrow serif)
function condense(svg) {
  svg.querySelectorAll("text").forEach(t => {
    const s = t.textContent.trim();
    let sx = 1, sy = 1;
    if (/^-?\d+$/.test(s) || /^\([a-h]\)$/.test(s)) sx = NARROW;
    else if (s === Y_TITLE) sy = 0.75;
    else return;
    const tr = t.getAttribute("transform") || "";
    t.setAttribute("transform", `${tr} scale(${sx},${sy})`);
  });
}

const page = document.getElementById("page");

PANELS.forEach((p, i) => {
  const col = i % 2, row = Math.floor(i / 2);
  const C = COLS[col], R = ROWS[row];
  const marks = [
    Plot.gridX(GRID_X, {stroke: "#c2c2c2", strokeWidth: 2.5, strokeOpacity: 1}),
    Plot.gridY(GRID_Y, {stroke: "#bdbdbd", strokeWidth: 3.5, strokeOpacity: 1})
  ];
  p.gray.forEach((vals, k) => {
    const data = XG.map((n, j) => ({n, z: vals[j]}));
    marks.push(Plot.line(data, {
      x: "n", y: "z",
      stroke: k === 0 ? "#c8c8c8" : SHADES[(k - 1) % SHADES.length],
      strokeWidth: k === 0 ? 7 : 3,
      strokeLinejoin: "round"
    }));
  });
  marks.push(Plot.line(XN.map((n, j) => ({n, z: p.red[j]})), {x: "n", y: "z", stroke: "#ff0000", strokeWidth: 8, strokeLinejoin: "round"}));
  marks.push(Plot.line(XN.map((n, j) => ({n, z: p.ns[j]})), {x: "n", y: "z", stroke: "#000000", strokeWidth: 7, strokeLinejoin: "round"}));
  marks.push(Plot.frame({stroke: "#000", strokeWidth: 4}));
  marks.push(Plot.axisX(X_TICKS, {tickSize: 18, tickPadding: 21, fontSize: 72, tickFormat: d => String(d), label: null, strokeWidth: 3}));
  marks.push(Plot.axisY(Y_TICKS, {tickSize: 15, tickPadding: 2, fontSize: 72, tickFormat: d => String(d), label: null, strokeWidth: 3}));
  marks.push(Plot.text([p.letter], {text: d => d, frameAnchor: "bottom-right", dx: -22, dy: -35, textAnchor: "end", lineAnchor: "bottom", fontSize: 70, fontWeight: "bold"}));
  if (col === 0) marks.push(Plot.text([Y_TITLE], {text: d => d, frameAnchor: "left", dx: -128, rotate: -90, fontSize: 72, fontWeight: "bold"}));
  if (row === 3) marks.push(Plot.text([X_TITLE], {text: d => d, frameAnchor: "bottom", dy: 176, fontSize: 70, fontWeight: "bold"}));

  const svg = Plot.plot({
    width: C.w, height: R.h,
    marginLeft: C.ml, marginRight: C.mr, marginTop: R.mt, marginBottom: R.mb,
    x: {domain: [-50, 50]},
    y: {domain: [-15, 40]},
    style: {fontFamily: FONT, background: "transparent", overflow: "visible", maxWidth: "none"},
    marks
  });
  condense(svg);
  svg.classList.add("plotsvg");
  svg.style.position = "absolute";
  svg.style.left = C.x + "px";
  svg.style.top = R.y + "px";
  page.appendChild(svg);

  const box = document.createElement("div");
  box.className = "box";
  box.style.left = C.x + "px";
  box.style.top = R.y + "px";
  box.style.width = C.w + "px";
  box.style.height = R.h + "px";
  page.appendChild(box);
});

// legend inside panel (h)
const LEG = {x: 3213, y: 3235, w: 312, h: 298};
const legendColors = ["#a6a6a6", "#ff0000", "#000000"];
const legendWidths = [4, 8, 8];
const legendLineY = [59, 151, 242];
const legendTextY = [87, 178, 270];
const ns = "http://www.w3.org/2000/svg";
const lg = document.createElementNS(ns, "svg");
lg.setAttribute("width", LEG.w);
lg.setAttribute("height", LEG.h);
lg.style.position = "absolute";
lg.style.left = LEG.x + "px";
lg.style.top = LEG.y + "px";
lg.style.fontFamily = FONT;
const rect = document.createElementNS(ns, "rect");
rect.setAttribute("x", 2); rect.setAttribute("y", 2);
rect.setAttribute("width", LEG.w - 4); rect.setAttribute("height", LEG.h - 4);
rect.setAttribute("fill", "#fff"); rect.setAttribute("stroke", "#000"); rect.setAttribute("stroke-width", 4);
lg.appendChild(rect);
LEGEND_LABELS.forEach((lab, k) => {
  const ln = document.createElementNS(ns, "line");
  ln.setAttribute("x1", 18); ln.setAttribute("x2", 68);
  ln.setAttribute("y1", legendLineY[k]); ln.setAttribute("y2", legendLineY[k]);
  ln.setAttribute("stroke", legendColors[k]);
  ln.setAttribute("stroke-width", legendWidths[k]);
  ln.setAttribute("stroke-linecap", "round");
  lg.appendChild(ln);
  const tx = document.createElementNS(ns, "text");
  tx.setAttribute("transform", `translate(87,${legendTextY[k]}) scale(0.78,1)`);
  tx.setAttribute("font-size", 72);
  tx.setAttribute("font-weight", "bold");
  tx.textContent = lab;
  lg.appendChild(tx);
});
page.appendChild(lg);
</script>
</body>
</html>
